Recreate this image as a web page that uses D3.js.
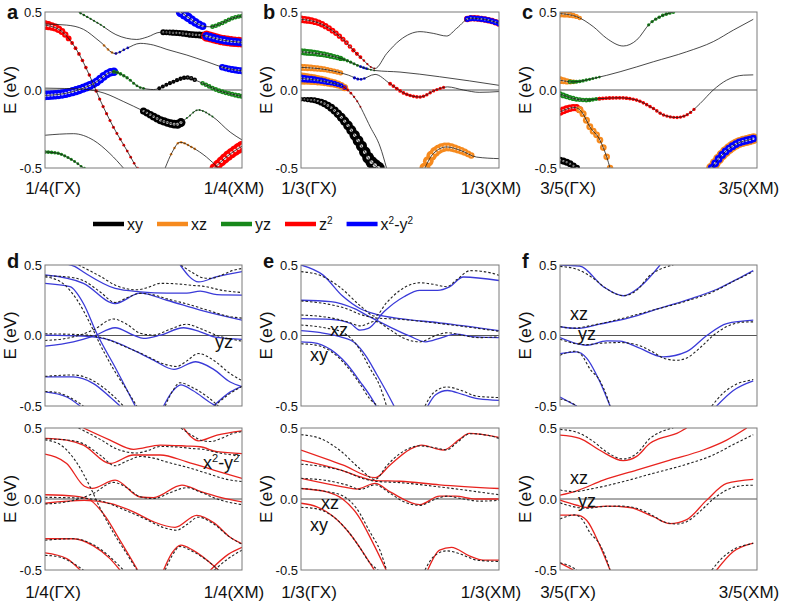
<!DOCTYPE html>
<html>
<head>
<meta charset="utf-8">
<script src="https://cdn.jsdelivr.net/npm/d3@7"></script>
<style>
body { margin: 0; background: #fff; }
text { font-family: "Liberation Sans", Arial, sans-serif; fill: #111; }
</style>
</head>
<body>
<svg id="fig" width="787" height="607"></svg>
<script>
// ---- data (k fraction along cut, energy in eV) ----
var orbitals = ['xy', 'xz', 'yz', 'z2', 'x2y2'];
var yTicks = [0.5, 0.0, -0.5];
var kFractions = ['1/4', '1/3', '3/5'];
var kEnds = ['(\u0393X)', '(XM)'];

// DFT bands, cut 1/4 (panel a, dashed in d)
var bandsA = [
  [[0,0.423],[0.11,0.416],[0.195,0.389],[0.28,0.309],[0.356,0.234],[0.415,0.267],[0.483,0.299],[0.551,0.288],[0.619,0.26],[0.72,0.224],[0.822,0.181],[0.924,0.138],[1,0.123]],
  [[0.17,0.5],[0.28,0.42],[0.36,0.355],[0.466,0.324],[0.52,0.34],[0.585,0.37],[0.68,0.365],[0.75,0.355],[0.8,0.35],[0.9,0.32],[1,0.305]],
  [[0.69,0.5],[0.75,0.445],[0.8,0.41],[0.84,0.405],[0.9,0.43],[0.95,0.46],[1,0.475]],
  [[0,-0.035],[0.11,-0.02],[0.246,0.04],[0.347,0.117],[0.415,0.08],[0.483,0.016],[0.551,0.003],[0.636,0.045],[0.72,0.08],[0.788,0.05],[0.873,0.0],[1,-0.04]],
  [[0,0.416],[0.076,0.384],[0.161,0.256],[0.229,0.085],[0.28,-0.065],[0.347,-0.237],[0.415,-0.386],[0.466,-0.5]],
  [[0,0.012],[0.195,0.005],[0.3,-0.02],[0.4,-0.075],[0.5,-0.135],[0.6,-0.2],[0.668,-0.22],[0.72,-0.18],[0.778,-0.128],[0.85,-0.17],[0.94,-0.27],[1,-0.32]],
  [[0,-0.29],[0.144,-0.28],[0.246,-0.322],[0.33,-0.408],[0.398,-0.5]],
  [[0,-0.397],[0.06,-0.404],[0.127,-0.44],[0.195,-0.5]],
  [[0.61,-0.5],[0.645,-0.4],[0.685,-0.335],[0.75,-0.37],[0.82,-0.43],[0.88,-0.5]],
  [[0.86,-0.5],[0.93,-0.42],[1,-0.36]]
];
// [band, orbital, k from, k to, weight from, weight to]
var fatA = [
  [4,'z2',0,0.12,0.75,0.45], [4,'z2',0.12,0.47,0.3,0.2],
  [3,'xz',0,0.12,0.35,0.25], [3,'x2y2',0,0.35,0.75,0.65], [3,'yz',0.35,0.5,0.3,0.2],
  [3,'xy',0.58,0.76,0.3,0.35], [3,'yz',0.8,1,0.35,0.4],
  [5,'xy',0.5,0.69,0.55,0.7], [5,'yz',0.72,0.85,0.15,0.15],
  [8,'xz',0.64,0.76,0.2,0.2],
  [0,'xz',0.3,0.36,0.2,0.2], [0,'x2y2',0.36,0.42,0.2,0.2], [0,'x2y2',0.9,1,0.5,0.55],
  [1,'yz',0.18,0.3,0.2,0.15], [1,'xy',0.6,0.8,0.45,0.55],
  [1,'z2',0.82,1,0.85,0.8], [1,'x2y2',0.82,1,0.65,0.6],
  [2,'x2y2',0.69,0.8,0.8,0.6], [2,'yz',0.85,1,0.35,0.35],
  [9,'z2',0.86,1,0.75,0.85], [7,'yz',0,0.2,0.3,0.2]
];

// DFT bands, cut 1/3 (panel b, dashed in e)
var bandsB = [
  [[0,0.453],[0.096,0.427],[0.197,0.342],[0.298,0.213],[0.374,0.138],[0.433,0.234],[0.5,0.32],[0.601,0.374],[0.668,0.363],[0.736,0.346],[0.786,0.395],[0.854,0.46],[0.938,0.45],[1,0.427]],
  [[0,0.245],[0.13,0.224],[0.23,0.19],[0.3,0.15],[0.374,0.125],[0.5,0.115],[0.7,0.085],[1,0.03]],
  [[0,0.145],[0.13,0.13],[0.24,0.095],[0.3,0.068],[0.374,0.1],[0.45,0.04],[0.52,-0.02],[0.6,-0.045],[0.68,0.0],[0.74,0.02],[0.82,0.0],[0.9,-0.015],[1,-0.01]],
  [[0,0.074],[0.13,0.052],[0.214,0.02],[0.28,-0.065],[0.35,-0.237],[0.4,-0.365],[0.432,-0.5]],
  [[0,-0.059],[0.062,-0.065],[0.146,-0.108],[0.23,-0.215],[0.298,-0.344],[0.348,-0.45],[0.39,-0.5]],
  [[0.626,-0.5],[0.668,-0.408],[0.736,-0.365],[0.803,-0.386],[0.887,-0.43],[1,-0.44]]
];
var fatB = [
  [0,'z2',0,0.3,0.6,0.3], [0,'z2',0.3,0.37,0.2,0.15],
  [1,'yz',0,0.2,0.55,0.4], [1,'yz',0.2,0.37,0.3,0.15], [1,'x2y2',0.3,0.33,0.2,0.2],
  [2,'xz',0,0.2,0.55,0.4], [2,'x2y2',0.27,0.32,0.25,0.2], [2,'z2',0.45,0.72,0.3,0.25],
  [3,'xz',0,0.22,0.95,0.55], [3,'x2y2',0,0.22,0.6,0.35], [3,'z2',0.22,0.3,0.25,0.15],
  [4,'xy',0,0.39,0.35,1],
  [5,'xz',0.626,0.86,0.85,0.5],
  [0,'z2',0.84,1,0.5,0.5], [0,'x2y2',0.84,1,0.45,0.45]
];

// DFT bands, cut 3/5 (panel c, dashed in f)
var bandsC = [
  [[0,0.49],[0.085,0.47],[0.169,0.406],[0.237,0.331],[0.321,0.282],[0.389,0.32],[0.457,0.427],[0.508,0.47],[0.575,0.5]],
  [[0,0.063],[0.068,0.052],[0.169,0.074],[0.305,0.117],[0.474,0.181],[0.643,0.245],[0.778,0.31],[0.88,0.384],[0.981,0.453]],
  [[0,-0.027],[0.085,-0.059],[0.135,-0.065],[0.203,-0.055],[0.305,-0.05],[0.389,-0.065],[0.474,-0.119],[0.525,-0.16],[0.592,-0.176],[0.643,-0.16],[0.711,-0.087],[0.778,0.0],[0.846,0.063],[0.931,0.095],[0.981,0.097]],
  [[0,-0.14],[0.076,-0.112],[0.11,-0.14],[0.152,-0.237],[0.203,-0.322],[0.237,-0.429],[0.254,-0.5]],
  [[0,-0.45],[0.05,-0.472],[0.085,-0.5]],
  [[0.77,-0.5],[0.829,-0.408],[0.897,-0.344],[0.964,-0.318],[0.981,-0.312]]
];
var fatC = [
  [0,'xz',0,0.1,0.6,0.35], [0,'yz',0.45,0.575,0.25,0.3],
  [1,'xz',0,0.07,0.6,0.35], [1,'yz',0.05,0.2,0.35,0.2],
  [2,'yz',0,0.2,0.45,0.3], [2,'z2',0.2,0.68,0.3,0.25],
  [3,'z2',0,0.1,0.6,0.55], [3,'xz',0.1,0.254,0.55,0.5],
  [4,'xy',0,0.085,0.55,0.5],
  [5,'xz',0.77,0.981,0.85,0.85], [5,'x2y2',0.77,0.981,0.6,0.6]
];

// model bands, yz changed (blue) and x2-y2 changed (red)
var blueD = [
  [[0,0.43],[0.195,0.37],[0.356,0.227],[0.483,0.3],[0.619,0.25],[0.788,0.18],[1,0.109]],
  [[0.1,0.51],[0.15,0.49],[0.195,0.45],[0.356,0.334],[0.483,0.31],[0.619,0.3],[0.72,0.3],[0.788,0.315],[0.873,0.29],[1,0.287]],
  [[0.686,0.5],[0.78,0.38],[0.873,0.417],[1,0.453]],
  [[0,-0.076],[0.144,-0.045],[0.246,-0.005],[0.356,0.055],[0.449,0.002],[0.5,-0.021],[0.585,0.002],[0.703,0.055],[0.788,0.026],[0.873,-0.014],[1,-0.028]],
  [[0,0.37],[0.127,0.346],[0.195,0.227],[0.263,0.014],[0.364,-0.246],[0.458,-0.5]],
  [[0,0.002],[0.195,-0.005],[0.33,-0.033],[0.449,-0.104],[0.551,-0.175],[0.655,-0.24],[0.765,-0.186],[0.856,-0.24],[0.94,-0.33],[1,-0.363]],
  [[0,-0.294],[0.144,-0.294],[0.246,-0.341],[0.33,-0.436],[0.381,-0.5]],
  [[0,-0.4],[0.11,-0.436],[0.178,-0.5]],
  [[0.602,-0.5],[0.645,-0.4],[0.69,-0.35],[0.75,-0.39],[0.856,-0.49],[0.87,-0.5]],
  [[0.856,-0.5],[0.941,-0.4],[1,-0.36]]
];
var redD = [
  [[0,0.427],[0.11,0.415],[0.195,0.38],[0.33,0.25],[0.449,0.31],[0.585,0.31],[0.72,0.262],[0.856,0.204],[1,0.145]],
  [[0.195,0.5],[0.33,0.415],[0.449,0.35],[0.585,0.38],[0.72,0.373],[0.788,0.368],[0.873,0.333],[1,0.32]],
  [[0.703,0.5],[0.78,0.41],[0.873,0.45],[1,0.48]],
  [[0,0.316],[0.11,0.25],[0.2,0.09],[0.24,0.075],[0.356,0.133],[0.483,0.014],[0.551,0.01],[0.695,0.098],[0.788,0.054],[0.89,0.012],[1,-0.02]],
  [[0,0.03],[0.15,0.02],[0.22,0.0],[0.3,-0.11],[0.38,-0.29],[0.47,-0.5]],
  [[0,-0.03],[0.2,-0.01],[0.33,-0.03],[0.449,-0.09],[0.55,-0.16],[0.66,-0.2],[0.77,-0.115],[0.86,-0.17],[0.94,-0.27],[1,-0.315]],
  [[0,-0.28],[0.144,-0.28],[0.246,-0.33],[0.33,-0.42],[0.38,-0.5]],
  [[0,-0.38],[0.11,-0.42],[0.178,-0.5]],
  [[0.602,-0.5],[0.645,-0.38],[0.69,-0.325],[0.75,-0.36],[0.856,-0.47],[0.88,-0.5]],
  [[0.84,-0.5],[0.93,-0.39],[1,-0.34]]
];
var blueE = [
  [[0,0.5],[0.11,0.43],[0.21,0.28],[0.3,0.19],[0.38,0.15],[0.5,0.12],[0.7,0.09],[1,0.035]],
  [[0,0.25],[0.15,0.24],[0.27,0.19],[0.35,0.13],[0.45,0.06],[0.55,-0.005],[0.63,-0.045],[0.7,-0.02],[0.78,0.01],[0.88,-0.01],[1,-0.015]],
  [[0,0.12],[0.15,0.115],[0.25,0.085],[0.298,0.038],[0.34,0.05],[0.42,0.17],[0.52,0.275],[0.6,0.32],[0.69,0.32],[0.75,0.345],[0.82,0.415],[1,0.39]],
  [[0,0.035],[0.1,0.02],[0.2,-0.01],[0.27,-0.05],[0.33,-0.15],[0.38,-0.27],[0.44,-0.42],[0.47,-0.5]],
  [[0,-0.045],[0.06,-0.05],[0.15,-0.1],[0.23,-0.2],[0.3,-0.33],[0.35,-0.43],[0.38,-0.5]],
  [[0.64,-0.5],[0.68,-0.42],[0.74,-0.39],[0.82,-0.42],[0.9,-0.45],[1,-0.46]]
];
var redE = [
  [[0,0.345],[0.21,0.24],[0.375,0.15],[0.45,0.24],[0.55,0.35],[0.61,0.38],[0.68,0.355],[0.72,0.345],[0.8,0.42],[0.85,0.462],[1,0.434]],
  [[0,0.274],[0.21,0.2],[0.3,0.155],[0.375,0.13],[0.5,0.125],[0.7,0.1],[1,0.074]],
  [[0,0.145],[0.21,0.086],[0.28,0.07],[0.375,0.11],[0.45,0.05],[0.6,-0.04],[0.7,0.02],[0.78,0.02],[0.88,0.0],[1,0.0]],
  [[0,0.074],[0.13,0.05],[0.21,0.0],[0.29,-0.12],[0.36,-0.3],[0.43,-0.5]],
  [[0,-0.03],[0.08,-0.055],[0.16,-0.12],[0.25,-0.25],[0.32,-0.39],[0.37,-0.5]],
  [[0.64,-0.5],[0.7,-0.36],[0.76,-0.34],[0.85,-0.4],[0.92,-0.43],[1,-0.43]]
];
var blueF = [
  [[0,0.5],[0.1,0.493],[0.22,0.346],[0.321,0.282],[0.406,0.346],[0.508,0.5]],
  [[0,0.062],[0.085,0.05],[0.2,0.08],[0.35,0.125],[0.5,0.19],[0.65,0.255],[0.8,0.33],[0.9,0.4],[0.981,0.46]],
  [[0,-0.014],[0.085,-0.057],[0.135,-0.069],[0.237,-0.038],[0.305,-0.04],[0.389,-0.08],[0.525,-0.152],[0.643,-0.115],[0.745,0.0],[0.846,0.085],[0.981,0.109]],
  [[0,-0.128],[0.085,-0.116],[0.135,-0.16],[0.203,-0.33],[0.254,-0.5]],
  [[0,-0.436],[0.085,-0.5]],
  [[0.795,-0.5],[0.88,-0.39],[0.981,-0.322]]
];
var redF = [
  [[0,0.45],[0.1,0.427],[0.2,0.345],[0.321,0.27],[0.389,0.3],[0.457,0.392],[0.508,0.427],[0.593,0.462],[0.643,0.5]],
  [[0,0.027],[0.085,0.058],[0.22,0.133],[0.389,0.203],[0.558,0.274],[0.728,0.345],[0.846,0.415],[0.948,0.5]],
  [[0,-0.008],[0.085,-0.044],[0.135,-0.06],[0.237,-0.05],[0.355,-0.06],[0.474,-0.125],[0.558,-0.173],[0.643,-0.145],[0.745,-0.008],[0.846,0.11],[0.981,0.138]],
  [[0,-0.114],[0.085,-0.114],[0.135,-0.15],[0.203,-0.33],[0.254,-0.5]],
  [[0,-0.45],[0.068,-0.5]],
  [[0.795,-0.5],[0.88,-0.37],[0.981,-0.31]]
];

// ---- styles / layout ----
var orbColor = { xy: '#000000', xz: '#f68a1e', yz: '#17881a', z2: '#ff0000', x2y2: '#0000ff' };
var blueLine = '#3a3ad8';
var redLine = '#e8231e';
var fatScale = 6.5;
var cols = [
  { x0: 45,  x1: 242, letters: ['a', 'd'], dft: bandsA, fat: fatA, blue: blueD, red: redD },
  { x0: 301, x1: 499, letters: ['b', 'e'], dft: bandsB, fat: fatB, blue: blueE, red: redE },
  { x0: 560, x1: 757, letters: ['c', 'f'], dft: bandsC, fat: fatC, blue: blueF, red: redF }
];
var notes = [
  [0, 'blue', 'yz', 215, 348], [0, 'red', 'x2y2', 203, 469],
  [1, 'blue', 'xz', 330, 336], [1, 'blue', 'xy', 310, 361],
  [1, 'red', 'xz', 321, 509],  [1, 'red', 'xy', 310, 531],
  [2, 'blue', 'xz', 570, 320], [2, 'blue', 'yz', 578, 340],
  [2, 'red', 'xz', 570, 484],  [2, 'red', 'yz', 578, 507]
];

var svg = d3.select('#fig');
var clipCount = 0;

var orbText = function(sel, key, size) {
  var sup = Math.round(size * 0.62);
  var up = Math.round(size * 0.38);
  if (key === 'z2') {
    sel.append('tspan').text('z');
    sel.append('tspan').attr('font-size', sup).attr('dy', -up).text('2');
  } else if (key === 'x2y2') {
    sel.append('tspan').text('x');
    sel.append('tspan').attr('font-size', sup).attr('dy', -up).text('2');
    sel.append('tspan').attr('dy', up).text('-y');
    sel.append('tspan').attr('font-size', sup).attr('dy', -up).text('2');
  } else {
    sel.text(key);
  }
};

// one framed plot box with its y axis
var makeBox = function(x0, x1, y0, y1) {
  var x = d3.scaleLinear().domain([0, 1]).range([x0, x1]);
  var y = d3.scaleLinear().domain([-0.5, 0.5]).range([y1, y0]);
  var id = 'clip' + (clipCount++);
  svg.append('clipPath').attr('id', id).append('rect')
    .attr('x', x0).attr('y', y0).attr('width', x1 - x0).attr('height', y1 - y0);
  var g = svg.append('g');
  g.append('line').attr('x1', x0).attr('x2', x1).attr('y1', y(0)).attr('y2', y(0))
    .attr('stroke', '#555').attr('stroke-width', 1);
  var plot = g.append('g').attr('clip-path', 'url(#' + id + ')');
  g.append('g').attr('transform', 'translate(' + x0 + ',0)')
    .call(d3.axisLeft(y).tickValues(yTicks).tickSize(0).tickPadding(3)
      .tickFormat(function(d) { return d.toFixed(1); }))
    .call(function(a) {
      a.select('.domain').remove();
      a.selectAll('text').attr('font-size', 13).attr('fill', '#111')
        .attr('font-family', '"Liberation Sans", Arial, sans-serif');
    });
  g.append('text').attr('transform', 'translate(' + (x0 - 33) + ',' + ((y0 + y1) / 2) + ') rotate(-90)')
    .attr('text-anchor', 'middle').attr('dominant-baseline', 'middle')
    .attr('font-size', 17).text('E (eV)');
  return { g: g, plot: plot, x: x, y: y, x0: x0, x1: x1, y0: y0, y1: y1 };
};

var closeBox = function(box) {
  box.g.append('rect').attr('x', box.x0).attr('y', box.y0)
    .attr('width', box.x1 - box.x0).attr('height', box.y1 - box.y0)
    .attr('fill', 'none').attr('stroke', '#7a7a7a').attr('stroke-width', 1);
};

var lineFor = function(box) {
  return d3.line().x(function(d) { return box.x(d[0]); })
    .y(function(d) { return box.y(d[1]); }).curve(d3.curveMonotoneX);
};

// y (px) on a drawn band at a given x (px)
var yOnPath = function(node, len, px) {
  var lo = 0, hi = len;
  for (var k = 0; k < 28; k++) {
    var mid = (lo + hi) / 2;
    if (node.getPointAtLength(mid).x < px) lo = mid; else hi = mid;
  }
  return node.getPointAtLength(lo).y;
};

var drawFat = function(box, nodes, fat) {
  var layer = box.plot.append('g');
  fat.forEach(function(f) {
    var node = nodes[f[0]];
    var len = node.getTotalLength();
    var n = Math.max(1, Math.round((f[3] - f[2]) * 58));
    var pts = d3.range(n + 1).map(function(i) {
      var t = i / n;
      var px = box.x(f[2] + (f[3] - f[2]) * t);
      return { px: px, py: yOnPath(node, len, px), r: fatScale * (f[4] + (f[5] - f[4]) * t) };
    });
    var seg = layer.append('g');
    seg.selectAll('circle.fat').data(pts).join('circle').attr('class', 'fat')
      .attr('cx', function(d) { return d.px; }).attr('cy', function(d) { return d.py; })
      .attr('r', function(d) { return Math.max(0.9, d.r); })
      .attr('fill', orbColor[f[1]]);
    seg.selectAll('circle.hole').data(pts.filter(function(d) { return d.r > 2.2; })).join('circle').attr('class', 'hole')
      .attr('cx', function(d) { return d.px; }).attr('cy', function(d) { return d.py; })
      .attr('r', function(d) { return d.r * 0.32; })
      .attr('fill', '#fff').attr('fill-opacity', 0.85);
  });
};

var kLabels = function(c, i, base) {
  svg.append('text').attr('x', c.x0 + 8).attr('y', base).attr('text-anchor', 'middle')
    .attr('font-size', 17).text(kFractions[i] + kEnds[0]);
  svg.append('text').attr('x', c.x1 - 8).attr('y', base).attr('text-anchor', 'middle')
    .attr('font-size', 17).text(kFractions[i] + kEnds[1]);
};

cols.forEach(function(c, i) {
  // top row: orbital-resolved DFT bands
  var box = makeBox(c.x0, c.x1, 12, 168);
  var line = lineFor(box);
  var hidden = box.plot.append('g').attr('opacity', 0);
  var nodes = c.dft.map(function(b) { return hidden.append('path').attr('d', line(b)).node(); });
  drawFat(box, nodes, c.fat);
  box.plot.append('g').selectAll('path').data(c.dft).join('path')
    .attr('d', line).attr('fill', 'none').attr('stroke', '#1a1a1a').attr('stroke-width', 0.8);
  closeBox(box);
  svg.append('text').attr('x', c.x0 - 38).attr('y', 19).attr('font-size', 20)
    .attr('font-weight', 'bold').text(c.letters[0]);
  kLabels(c, i, 194);

  // bottom row: model bands against DFT (dashed)
  [['blue', c.blue, blueLine, 265, 406], ['red', c.red, redLine, 428, 570]].forEach(function(s) {
    var b = makeBox(c.x0, c.x1, s[3], s[4]);
    var ln = lineFor(b);
    b.plot.append('g').selectAll('path').data(s[1]).join('path')
      .attr('d', ln).attr('fill', 'none').attr('stroke', s[2]).attr('stroke-width', 1.3);
    b.plot.append('g').selectAll('path').data(c.dft).join('path')
      .attr('d', ln).attr('fill', 'none').attr('stroke', '#222')
      .attr('stroke-width', 1.1).attr('stroke-dasharray', '2.5,2');
    closeBox(b);
    notes.filter(function(n) { return n[0] === i && n[1] === s[0]; }).forEach(function(n) {
      var t = svg.append('text').attr('x', n[3]).attr('y', n[4]).attr('font-size', 18);
      orbText(t, n[2], 18);
    });
  });
  svg.append('text').attr('x', c.x0 - 38).attr('y', 268).attr('font-size', 20)
    .attr('font-weight', 'bold').text(c.letters[1]);
  kLabels(c, i, 598);
});

// legend
var lx = 93;
orbitals.forEach(function(o) {
  svg.append('line').attr('x1', lx).attr('x2', lx + 31).attr('y1', 224).attr('y2', 224)
    .attr('stroke', orbColor[o]).attr('stroke-width', 4.5);
  var t = svg.append('text').attr('x', lx + 34).attr('y', 230).attr('font-size', 16);
  orbText(t, o, 16);
  lx = lx + 34 + t.node().getComputedTextLength() + 14;
});
</script>
</body>
</html>
